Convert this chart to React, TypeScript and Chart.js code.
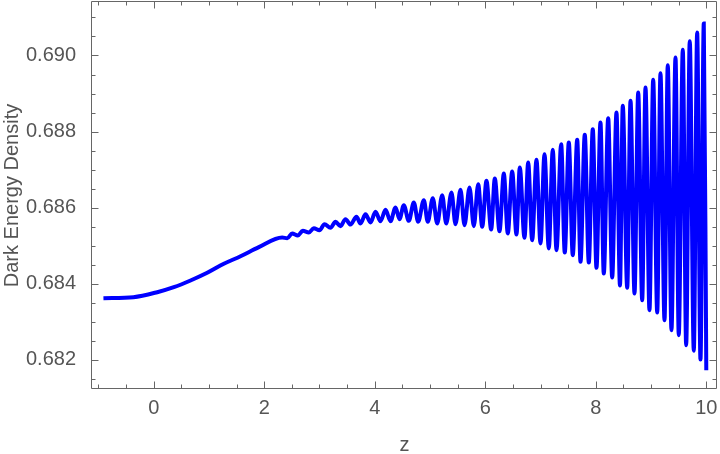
import React, { useEffect, useRef } from 'react';
import { Chart, registerables } from 'chart.js';

Chart.register(...registerables);

// z (redshift) sample points: smooth part, then alternating peaks / troughs
const zValues = [
  -0.91, -0.366, 0.063, 0.364, 0.666, 0.968, 1.269, 1.571, 1.902,
  2.325, 2.416, 2.506, 2.608, 2.698, 2.807, 2.897, 3.0, 3.091, 3.199,
  3.29, 3.38, 3.471, 3.561, 3.67, 3.742, 3.833, 3.923, 4.014, 4.104,
  4.195, 4.285, 4.376, 4.448, 4.526, 4.616, 4.707, 4.786, 4.888, 4.96,
  5.051, 5.13, 5.221, 5.293, 5.389, 5.461, 5.552, 5.624, 5.715, 5.793,
  5.872, 5.945, 6.022, 6.107, 6.173, 6.258, 6.336, 6.408, 6.487, 6.565,
  6.625, 6.71, 6.777, 6.849, 6.927, 7.0, 7.072, 7.15, 7.222, 7.289,
  7.374, 7.439, 7.512, 7.584, 7.664, 7.724, 7.801, 7.874, 7.946, 8.013,
  8.085, 8.145, 8.225, 8.297, 8.375, 8.438, 8.489, 8.569, 8.629, 8.701,
  8.768, 8.84, 8.9, 8.972, 9.039, 9.112, 9.171, 9.244, 9.303, 9.37,
  9.443, 9.502, 9.575, 9.636, 9.701, 9.774, 9.835, 9.895, 9.955, 10.0,
];

const densityValues = [
  0.683619, 0.683646, 0.683777, 0.683909, 0.684085, 0.684287, 0.684524, 0.684723, 0.68496,
  0.685215, 0.685195, 0.68532, 0.685266, 0.685391, 0.685345, 0.685459, 0.685405, 0.685565, 0.685468,
  0.685628, 0.685513, 0.685696, 0.685555, 0.685759, 0.685583, 0.685828, 0.685609, 0.685891, 0.685644,
  0.685943, 0.685644, 0.686004, 0.685696, 0.686064, 0.685654, 0.686135, 0.685628, 0.686196, 0.685628,
  0.686248, 0.685583, 0.686327, 0.685583, 0.686398, 0.685565, 0.686469, 0.685538, 0.686529, 0.685512,
  0.686616, 0.685496, 0.686706, 0.685425, 0.686766, 0.685381, 0.686897, 0.68532, 0.68695, 0.685294,
  0.687055, 0.685207, 0.687187, 0.685144, 0.687258, 0.685057, 0.687405, 0.684926, 0.68752, 0.684881,
  0.687668, 0.684821, 0.687712, 0.68475, 0.687783, 0.684576, 0.687915, 0.684558, 0.688062, 0.684418,
  0.688238, 0.684269, 0.688351, 0.684164, 0.688501, 0.683953, 0.688677, 0.683893, 0.688809, 0.683743,
  0.689027, 0.683567, 0.689158, 0.683304, 0.689361, 0.683243, 0.689534, 0.683041, 0.689744, 0.682778,
  0.689947, 0.682647, 0.690149, 0.682384, 0.690375, 0.682237, 0.690604, 0.682008, 0.690841, 0.681727,
];

const xTickValues = [0, 2, 4, 6, 8, 10];
const xMinorTickValues = [-1, -0.5, 0.5, 1, 1.5, 2.5, 3, 3.5, 4.5, 5, 5.5, 6.5, 7, 7.5, 8.5, 9, 9.5];
const yTickValues = [0.682, 0.684, 0.686, 0.688, 0.69];
const yMinorTickValues = [
  0.6815, 0.6825, 0.683, 0.6835, 0.6845, 0.685, 0.6855, 0.6865, 0.687, 0.6875,
  0.6885, 0.689, 0.6895, 0.6905, 0.691,
];

const xTitle = 'z';
const yTitle = 'Dark Energy Density';

const FONT = '"Liberation Sans", Arial, Helvetica, sans-serif';
const TEXT_COLOR = '#555555';
const FRAME_COLOR = '#666666';

const framePlugin = {
  id: 'mmaFrame',
  afterDraw(chart: any) {
    const { ctx, chartArea, scales } = chart;
    const xs = scales.x;
    const ys = scales.y;
    const L = Math.round(chartArea.left) - 0.5;
    const R = Math.round(chartArea.right) - 0.5;
    const T = Math.round(chartArea.top) - 0.5;
    const B = Math.round(chartArea.bottom) - 0.5;
    ctx.save();
    ctx.strokeStyle = FRAME_COLOR;
    ctx.lineWidth = 1;
    ctx.beginPath();
    ctx.rect(L, T, R - L, B - T);
    ctx.stroke();
    const drawX = (vals: number[], len: number) => {
      vals.forEach((v) => {
        const px = Math.round(xs.getPixelForValue(v)) + 0.5;
        ctx.beginPath();
        ctx.moveTo(px, B);
        ctx.lineTo(px, B - len);
        ctx.moveTo(px, T);
        ctx.lineTo(px, T + len);
        ctx.stroke();
      });
    };
    const drawY = (vals: number[], len: number) => {
      vals.forEach((v) => {
        const py = Math.round(ys.getPixelForValue(v)) + 0.5;
        ctx.beginPath();
        ctx.moveTo(L, py);
        ctx.lineTo(L + len, py);
        ctx.moveTo(R, py);
        ctx.lineTo(R - len, py);
        ctx.stroke();
      });
    };
    drawX(xTickValues, 7);
    drawX(xMinorTickValues, 4);
    drawY(yTickValues, 7);
    drawY(yMinorTickValues, 4);
    ctx.restore();
  },
};

export default function App() {
  const canvasRef = useRef<HTMLCanvasElement | null>(null);

  useEffect(() => {
    const canvas = canvasRef.current;
    if (!canvas) return;
    const points = zValues.map((z, i) => ({ x: z, y: densityValues[i] }));
    const chart = new Chart(canvas, {
      type: 'line',
      data: {
        datasets: [
          {
            data: points,
            borderColor: '#0000ff',
            borderWidth: 4,
            pointRadius: 0,
            cubicInterpolationMode: 'monotone',
            fill: false,
          },
        ],
      },
      options: {
        responsive: false,
        animation: false,
        events: [],
        devicePixelRatio: 1,
        layout: { padding: { left: 0, right: 3, top: 2, bottom: 0 } },
        plugins: {
          legend: { display: false },
          tooltip: { enabled: false },
        },
        scales: {
          x: {
            type: 'linear',
            min: -1.117,
            max: 10.194,
            grid: { display: false },
            border: { display: false },
            ticks: {
              padding: -1,
              color: TEXT_COLOR,
              font: { family: FONT, size: 20 },
              maxRotation: 0,
              callback: (v: any) => String(v),
            },
            afterBuildTicks: (scale: any) => {
              scale.ticks = xTickValues.map((v) => ({ value: v }));
            },
            afterFit: (scale: any) => {
              scale.height = 65;
              scale.paddingLeft = 0;
              scale.paddingRight = 0;
            },
            title: {
              display: true,
              text: xTitle,
              color: TEXT_COLOR,
              font: { family: FONT, size: 20 },
              padding: { top: 0, bottom: -3 },
            },
          },
          y: {
            type: 'linear',
            min: 0.681232,
            max: 0.691406,
            grid: { display: false },
            border: { display: false },
            ticks: {
              padding: 8,
              color: TEXT_COLOR,
              font: { family: FONT, size: 20 },
              callback: (v: any) => Number(v).toFixed(3),
            },
            afterBuildTicks: (scale: any) => {
              scale.ticks = yTickValues.map((v) => ({ value: v }));
            },
            afterFit: (scale: any) => {
              scale.width = 92;
              scale.paddingTop = 0;
              scale.paddingBottom = 0;
            },
            title: {
              display: true,
              text: yTitle,
              color: TEXT_COLOR,
              font: { family: FONT, size: 20 },
              padding: { top: 0, bottom: 0 },
            },
          },
        },
      },
      plugins: [framePlugin],
    } as any);
    return () => chart.destroy();
  }, []);

  return (
    <div style={{ position: 'fixed', left: 0, top: 0, width: 720, height: 454, background: '#fff' }}>
      <canvas ref={canvasRef} width={720} height={454} style={{ display: 'block' }} />
    </div>
  );
}
